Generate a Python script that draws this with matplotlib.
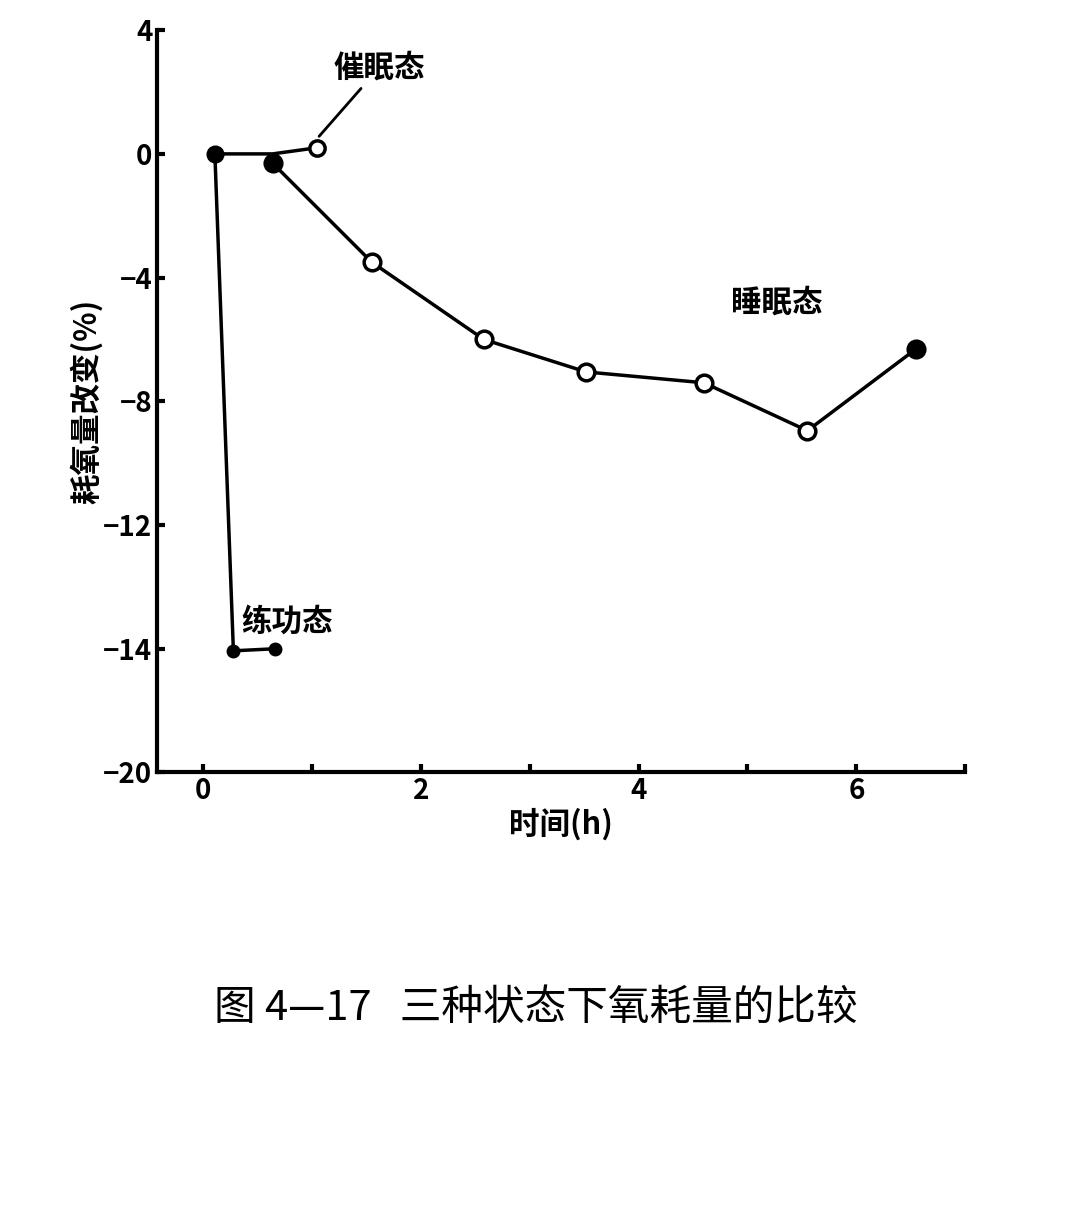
import numpy as np
import matplotlib
matplotlib.use("Agg")
import matplotlib.pyplot as plt

plt.rcParams['font.family'] = ['Noto Sans CJK SC', 'DejaVu Sans']

ytick_vals = [-20, -14, -12, -8, -4, 0, 4]
ytick_labels = ['−20', '−14', '−12', '−8', '−4', '0', '4']
xtick_vals = [0, 2, 4, 6]

hyp_x = [0.11, 0.64, 1.05]
hyp_y = [0.0, 0.0, 0.2]
sleep_x = [0.64, 1.55, 2.58, 3.52, 4.6, 5.55, 6.55]
sleep_y = [-0.3, -3.5, -6.0, -7.05, -7.4, -8.95, -6.3]
sleep_filled = [True, False, False, False, False, False, True]
ex_x = [0.11, 0.28, 0.66]
ex_y = [0.0, -14.1, -14.0]

pos = np.arange(len(ytick_vals), dtype=float)
fwd = lambda v: np.interp(v, ytick_vals, pos)
inv = lambda p: np.interp(p, pos, ytick_vals)

fig = plt.figure(figsize=(10.69, 12.07), dpi=100)
ax = fig.add_axes([0.147, 0.36, 0.756, 0.615])
ax.set_yscale('function', functions=(fwd, inv))
ax.set_ylim(-20, 4)
ax.set_xlim(-0.42, 7.0)

lw = 2.5
ax.plot(hyp_x, hyp_y, color='black', lw=lw)
ax.plot(hyp_x[-1], hyp_y[-1], 'o', ms=11, mfc='white', mec='black', mew=2.5)
ax.plot(sleep_x, sleep_y, color='black', lw=lw)
for x, y, f in zip(sleep_x, sleep_y, sleep_filled):
    ax.plot(x, y, 'o', ms=12, mfc='black' if f else 'white', mec='black', mew=2.5)
ax.plot(ex_x, ex_y, color='black', lw=lw, marker='o', ms=9, mfc='black')
ax.plot(hyp_x[0], hyp_y[0], 'o', ms=12, color='black')

for s in ['top', 'right']:
    ax.spines[s].set_visible(False)
for s in ['left', 'bottom']:
    ax.spines[s].set_linewidth(3)
ax.set_yticks(ytick_vals)
ax.set_yticklabels(ytick_labels, fontsize=20, fontweight='bold')
ax.set_xticks(range(0, 8))
ax.set_xticklabels(['0', '', '2', '', '4', '', '6', ''], fontsize=20, fontweight='bold')
ax.tick_params(direction='in', length=6, width=3)

ax.annotate('催眠态', xy=(1.05, 0.5), xytext=(1.2, 2.5), fontsize=22, fontweight='bold',
            arrowprops=dict(arrowstyle='-', color='black', lw=2))
ax.text(4.85, -5.1, '睡眠态', fontsize=22, fontweight='bold')
ax.text(0.35, -13.7, '练功态', fontsize=22, fontweight='bold')
ax.set_xlabel('时间(h)', fontsize=22, fontweight='bold', labelpad=2)
ax.set_ylabel('耗氧量改变(%)', fontsize=22, fontweight='bold', labelpad=0)

fig.text(0.2, 0.165, '图 4—17   三种状态下氧耗量的比较', fontsize=30, va='center')
fig.savefig('out.png', dpi=100)
